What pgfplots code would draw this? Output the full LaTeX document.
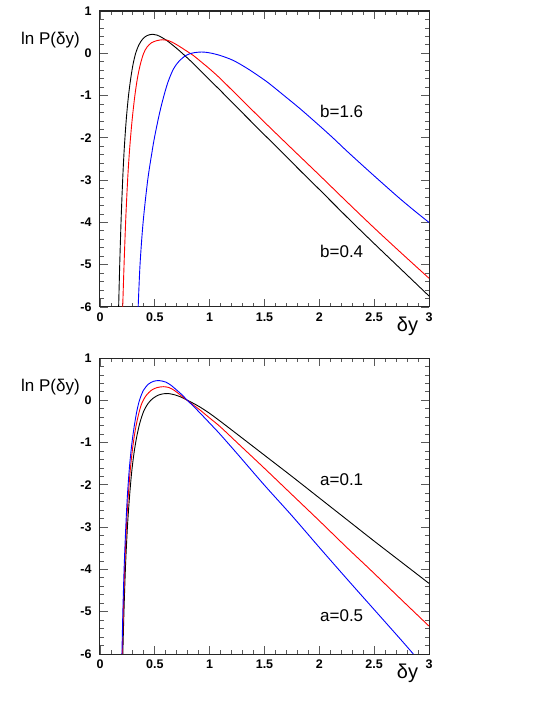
\documentclass[border=0pt]{standalone}
\usepackage{fontspec}
\setmainfont{Liberation Sans}
\usepackage{pgfplots}
\pgfplotsset{compat=1.18}

% ROOT-like frame shared by both panels
\pgfplotsset{
  rootframe/.style={
    scale only axis, width=329pt, height=296pt, anchor=south west,
    xmin=0, xmax=3, ymin=-6, ymax=1,
    xtick={0,0.5,1,1.5,2,2.5,3}, xticklabels={0,0.5,1,1.5,2,2.5,3},
    ytick={-6,-5,-4,-3,-2,-1,0,1}, yticklabels={-6,-5,-4,-3,-2,-1,0,1},
    minor x tick num=4, minor y tick num=4,
    tick align=inside, xtick pos=both, ytick pos=both,
    xticklabel pos=lower, yticklabel pos=left,
    major tick length=8pt, minor tick length=4pt,
    ticklabel style={font=\bfseries\fontsize{12.5}{14}\selectfont},
    xticklabel style={yshift=-2pt},
    yticklabel style={xshift=-5pt},
    axis line style={line width=1pt, black!85},
    tick style={black!65, line width=0.8pt},
    clip mode=individual,
  },
  curve/.style={line width=0.9pt, smooth, tension=0.5},
}

\begin{document}
\begin{tikzpicture}
\useasboundingbox (0,0) rectangle (545pt,705pt);

% ---- upper panel: b varies ----
\begin{axis}[rootframe, at={(100pt,398pt)}]
\addplot[curve, black] coordinates {
 (0.170,-6.00) (0.180,-4.98) (0.193,-3.90) (0.208,-2.92) (0.222,-2.22)
 (0.240,-1.55) (0.260,-1.00) (0.280,-0.60) (0.300,-0.28) (0.325,0.00)
 (0.355,0.20) (0.39,0.34) (0.43,0.42) (0.48,0.45) (0.52,0.43)
 (0.56,0.38) (0.61,0.30) (0.66,0.20) (0.72,0.07) (0.784,-0.08)
 (0.85,-0.24) (0.912,-0.40) (1.0,-0.63) (1.094,-0.87) (1.25,-1.28)
 (1.5,-1.93) (1.641,-2.29) (1.824,-2.77) (2.0,-3.22) (2.27,-3.92)
 (2.5,-4.50) (2.75,-5.12) (3.0,-5.74)};
\addplot[curve, red] coordinates {
 (0.207,-6.00) (0.220,-4.95) (0.236,-3.85) (0.254,-2.90) (0.272,-2.20)
 (0.294,-1.55) (0.318,-1.00) (0.342,-0.58) (0.368,-0.26) (0.398,0.00)
 (0.43,0.15) (0.47,0.25) (0.52,0.30) (0.57,0.32) (0.61,0.31)
 (0.66,0.26) (0.72,0.17) (0.78,0.07) (0.85,-0.05) (0.912,-0.18)
 (1.0,-0.37) (1.094,-0.59) (1.25,-0.99) (1.5,-1.63) (1.763,-2.29)
 (2.0,-2.88) (2.25,-3.51) (2.5,-4.13) (2.75,-4.73) (3.0,-5.32)};
\addplot[curve, blue] coordinates {
 (0.348,-6.00) (0.365,-5.00) (0.393,-4.00) (0.435,-3.00) (0.477,-2.29)
 (0.50,-1.95) (0.54,-1.45) (0.578,-1.05) (0.62,-0.68) (0.67,-0.37)
 (0.72,-0.19) (0.784,-0.05) (0.85,0.01) (0.93,0.03) (1.0,0.01)
 (1.094,-0.05) (1.216,-0.17) (1.35,-0.37) (1.52,-0.67) (1.65,-0.94)
 (1.824,-1.31) (2.0,-1.71) (2.128,-2.01) (2.25,-2.31) (2.432,-2.74)
 (2.6,-3.13) (2.736,-3.44) (2.87,-3.73) (3.0,-4.00)};
\node[anchor=west, inner sep=0, font=\fontsize{17}{20}\selectfont] at (axis cs:2.006,-1.365) {b=1.6};
\node[anchor=west, inner sep=0, font=\fontsize{17}{20}\selectfont] at (axis cs:2.006,-4.675) {b=0.4};
\node[anchor=east, inner sep=0, xshift=-20pt, yshift=-29pt, font=\fontsize{17}{20}\selectfont] at (rel axis cs:0,1) {ln P(δy)};
\node[inner sep=0, xshift=-21.5pt, yshift=-19pt, font=\fontsize{20}{24}\selectfont] at (rel axis cs:1,0) {δy};
\end{axis}

% ---- lower panel: a varies ----
\begin{axis}[rootframe, at={(100pt,51pt)}]
\addplot[curve, black] coordinates {
 (0.208,-6.00) (0.219,-4.95) (0.233,-3.90) (0.250,-3.00) (0.268,-2.32)
 (0.288,-1.72) (0.31,-1.25) (0.335,-0.86) (0.365,-0.52) (0.40,-0.25)
 (0.44,-0.07) (0.48,0.04) (0.53,0.12) (0.58,0.155) (0.623,0.16)
 (0.68,0.13) (0.74,0.075) (0.79,0.01) (0.85,-0.07) (0.912,-0.16)
 (1.0,-0.31) (1.094,-0.49) (1.25,-0.80) (1.5,-1.30) (1.75,-1.80)
 (2.0,-2.31) (2.25,-2.82) (2.5,-3.33) (2.75,-3.83) (3.0,-4.33)};
\addplot[curve, red] coordinates {
 (0.204,-6.00) (0.213,-4.95) (0.226,-3.90) (0.242,-2.95) (0.258,-2.25)
 (0.277,-1.62) (0.298,-1.12) (0.322,-0.70) (0.35,-0.35) (0.38,-0.08)
 (0.42,0.11) (0.47,0.24) (0.52,0.30) (0.578,0.322) (0.63,0.30)
 (0.68,0.23) (0.73,0.13) (0.79,0.01) (0.85,-0.11) (0.912,-0.23)
 (1.0,-0.42) (1.094,-0.62) (1.25,-1.00) (1.5,-1.61) (1.75,-2.23)
 (2.0,-2.85) (2.25,-3.48) (2.462,-4.00) (2.75,-4.72) (3.0,-5.34)};
\addplot[curve, blue] coordinates {
 (0.200,-6.00) (0.209,-4.95) (0.221,-3.90) (0.236,-2.95) (0.250,-2.25)
 (0.268,-1.60) (0.288,-1.08) (0.31,-0.65) (0.335,-0.27) (0.36,0.00)
 (0.395,0.23) (0.44,0.38) (0.49,0.45) (0.541,0.465) (0.60,0.43)
 (0.65,0.35) (0.70,0.24) (0.75,0.125) (0.79,0.015) (0.85,-0.135)
 (0.912,-0.30) (1.0,-0.54) (1.094,-0.80) (1.25,-1.26) (1.5,-2.01)
 (1.75,-2.73) (2.0,-3.48) (2.25,-4.22) (2.5,-4.95) (2.75,-5.68)
 (2.857,-6.00)};
\node[anchor=west, inner sep=0, font=\fontsize{17}{20}\selectfont] at (axis cs:2.006,-1.885) {a=0.1};
\node[anchor=west, inner sep=0, font=\fontsize{17}{20}\selectfont] at (axis cs:2.006,-5.09) {a=0.5};
\node[anchor=east, inner sep=0, xshift=-20pt, yshift=-29pt, font=\fontsize{17}{20}\selectfont] at (rel axis cs:0,1) {ln P(δy)};
\node[inner sep=0, xshift=-21.5pt, yshift=-19pt, font=\fontsize{20}{24}\selectfont] at (rel axis cs:1,0) {δy};
\end{axis}
\end{tikzpicture}
\end{document}
